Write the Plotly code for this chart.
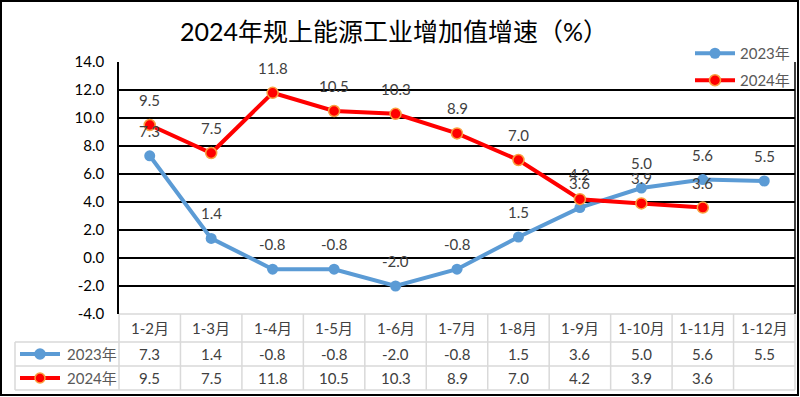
import plotly.graph_objects as go

categories = ["1-2月", "1-3月", "1-4月", "1-5月", "1-6月", "1-7月", "1-8月", "1-9月", "1-10月", "1-11月", "1-12月"]
v2023 = [7.3, 1.4, -0.8, -0.8, -2.0, -0.8, 1.5, 3.6, 5.0, 5.6, 5.5]
v2024 = [9.5, 7.5, 11.8, 10.5, 10.3, 8.9, 7.0, 4.2, 3.9, 3.6, None]
series_names = ["2023年", "2024年"]
y_ticks = [-4.0, -2.0, 0.0, 2.0, 4.0, 6.0, 8.0, 10.0, 12.0, 14.0]
title = "2024年规上能源工业增加值增速（%）"

W, H = 800, 397
L, R, T, B = 119, 795, 62, 314
FONT = "Lato, 'Noto Sans CJK SC', sans-serif"
BLUE = "#5B9BD5"
RED = "#FF0000"
ORANGE = "#F9A03F"
TXT = "#404040"
GRID_TBL = "#D9D9D9"
FS = 15


def px(x):
    return (x - L) / (R - L)


def py(y):
    return (B - y) / (B - T)


fig = go.Figure()
fig.add_trace(go.Scatter(
    x=categories, y=v2023, name=series_names[0], mode="lines+markers",
    line=dict(color=BLUE, width=4), marker=dict(color=BLUE, size=11),
    legend="legend",
))
fig.add_trace(go.Scatter(
    x=categories, y=v2024, name=series_names[1], mode="lines+markers",
    line=dict(color=RED, width=4),
    marker=dict(color=RED, size=11, line=dict(color=ORANGE, width=1.5)),
    legend="legend2",
))

ann = []
# data labels
for vals in (v2023, v2024):
    for c, v in zip(categories, vals):
        if v is None:
            continue
        ann.append(dict(x=c, y=v, xref="x", yref="y", text=f"{v:.1f}", showarrow=False,
                        yanchor="middle", yshift=25, font=dict(family=FONT, size=FS, color=TXT)))

# title
ann.append(dict(x=px(394), y=py(31), xref="paper", yref="paper", text=title, showarrow=False,
                yanchor="middle", font=dict(family=FONT, size=25, color="#000000")))

# table
row_tops = [314, 342, 366, 390]
shapes = []
n = len(categories)
colw = (R - L) / n
shapes.append(dict(type="line", xref="paper", yref="paper", x0=px(L), x1=px(R), y0=py(314), y1=py(314),
                   line=dict(color=GRID_TBL, width=1.5)))
for yy in row_tops[1:]:
    shapes.append(dict(type="line", xref="paper", yref="paper", x0=px(15), x1=px(R), y0=py(yy), y1=py(yy),
                       line=dict(color=GRID_TBL, width=1.5)))
shapes.append(dict(type="line", xref="paper", yref="paper", x0=px(15), x1=px(15), y0=py(342), y1=py(390),
                   line=dict(color=GRID_TBL, width=1.5)))
for i in range(n + 1):
    xx = L + i * colw
    shapes.append(dict(type="line", xref="paper", yref="paper", x0=px(xx), x1=px(xx), y0=py(314), y1=py(390),
                       line=dict(color=GRID_TBL, width=1.5)))
row_centers = [(row_tops[k] + row_tops[k + 1]) / 2 for k in range(3)]
for i, c in enumerate(categories):
    ann.append(dict(x=c, y=py(row_centers[0]), xref="x", yref="paper", text=c, showarrow=False,
                    yanchor="middle", font=dict(family=FONT, size=FS, color=TXT)))
    for r, vals in enumerate((v2023, v2024)):
        v = vals[i]
        if v is None:
            continue
        ann.append(dict(x=c, y=py(row_centers[r + 1]), xref="x", yref="paper", text=f"{v:.1f}",
                        showarrow=False, yanchor="middle", font=dict(family=FONT, size=FS, color=TXT)))
# legend keys in table
for r, (nm, col, outline) in enumerate(((series_names[0], BLUE, BLUE), (series_names[1], RED, ORANGE))):
    yc = row_centers[r + 1]
    shapes.append(dict(type="line", xref="paper", yref="paper", x0=px(20), x1=px(60), y0=py(yc), y1=py(yc),
                       line=dict(color=col, width=4)))
    shapes.append(dict(type="circle", xref="paper", yref="paper", x0=px(35), x1=px(45),
                       y0=py(yc + 5), y1=py(yc - 5), fillcolor=col, line=dict(color=outline, width=1.5)))
    ann.append(dict(x=px(65), y=py(yc), xref="paper", yref="paper", text=nm, showarrow=False,
                    xanchor="left", yanchor="middle", font=dict(family=FONT, size=FS, color="#595959")))

# outer border
shapes.append(dict(type="rect", xref="paper", yref="paper", x0=px(1), x1=px(798), y0=py(1), y1=py(395),
                   line=dict(color="#000000", width=2), layer="above"))
# right border of plot
shapes.append(dict(type="line", xref="paper", yref="paper", x0=1, x1=1, y0=0, y1=1,
                   line=dict(color="#000000", width=1.5)))

fig.update_layout(
    width=W, height=H,
    margin=dict(l=L, r=W - R, t=T, b=H - B),
    paper_bgcolor="white", plot_bgcolor="white",
    showlegend=True,
    legend=dict(x=px(690), y=py(37), xanchor="left", yanchor="top", bgcolor="rgba(0,0,0,0)",
                font=dict(family=FONT, size=FS, color="#595959"), itemwidth=40),
    legend2=dict(x=px(690), y=py(64), xanchor="left", yanchor="top", bgcolor="rgba(0,0,0,0)",
                 font=dict(family=FONT, size=FS, color="#595959"), itemwidth=40),
    xaxis=dict(range=[-0.5, n - 0.5], showticklabels=False, showgrid=False, zeroline=False,
               ticks="", showline=False, fixedrange=True),
    yaxis=dict(range=[-4, 14], tickvals=y_ticks, ticktext=[f"{t:.1f}" for t in y_ticks],
               showgrid=True, gridcolor="#000000", gridwidth=1.5, zeroline=False,
               showline=True, linecolor="#000000", linewidth=1.5,
               ticks="outside", ticklen=0, ticklabelstandoff=10,
               tickfont=dict(family=FONT, size=FS, color="#000000")),
    annotations=ann, shapes=shapes,
)
fig.write_html("out.html", config={"displayModeBar": False},
               post_script="document.body.style.margin='0';document.body.style.overflow='hidden';")
